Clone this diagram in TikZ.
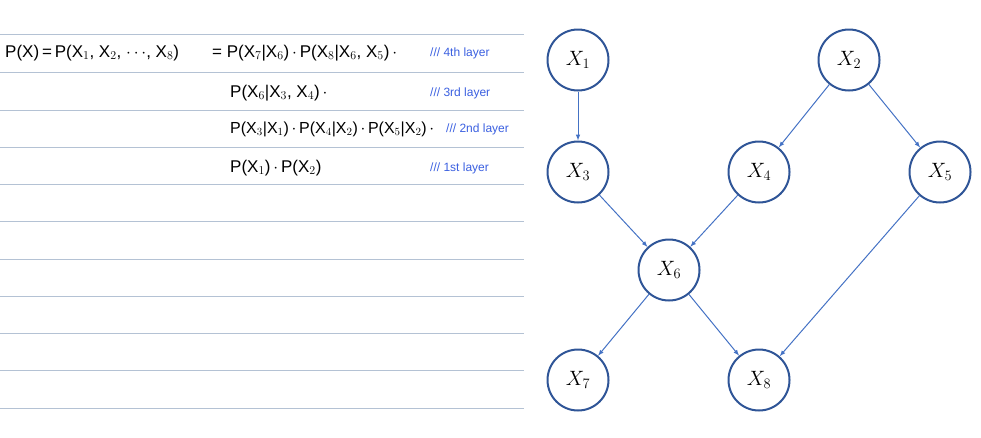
\documentclass[tikz,border=0pt]{standalone}
\usepackage{fontspec}
\setsansfont{Liberation Sans}
\begin{document}
\begin{tikzpicture}[x=1pt,y=-1pt,
  rv/.style={circle,draw=nodeblue,line width=2pt,minimum size=61pt,inner sep=0pt,font=\fontsize{21}{21}\selectfont},
  edge/.style={draw=edgeblue,line width=1pt,-latex},
  ruled/.style={draw=lineblue,line width=0.9pt},
  eq/.style={anchor=west,font=\sffamily\fontsize{17}{17}\selectfont,inner sep=0pt},
  lay/.style={anchor=west,font=\sffamily\fontsize{12}{12}\selectfont,text=labblue,inner sep=0pt}]
\definecolor{nodeblue}{HTML}{2F5597}
\definecolor{edgeblue}{HTML}{4472C4}
\definecolor{lineblue}{HTML}{B4C2D4}
\definecolor{labblue}{HTML}{3A5FE0}
\newcommand{\dt}{\,$\cdot$\,}
\useasboundingbox (0,0) rectangle (981,437);
\foreach \y in {34,72,110,147,184,221,259,296,333,370,408}
  \draw[ruled] (0,\y) -- (524,\y);
\node[eq] (e1) at (5,53) {P(X)\,=\,P(X$_1$, X$_2$, $\cdots$, X$_8$)};
\node[eq] (e2) at (212,53) {= P(X$_7$|X$_6$)\dt P(X$_8$|X$_6$, X$_5$)\dt};
\node[eq] (e3) at (230,93) {P(X$_6$|X$_3$, X$_4$)\dt};
\node[eq,font=\sffamily\fontsize{16}{16}\selectfont] (e4) at (230,129) {P(X$_3$|X$_1$)\dt P(X$_4$|X$_2$)\dt P(X$_5$|X$_2$)\dt};
\node[eq] (e5) at (230,168) {P(X$_1$)\dt P(X$_2$)};
\node[lay] (l1) at (430,53) {/// 4th layer};
\node[lay] (l2) at (430,93) {/// 3rd layer};
\node[lay] (l3) at (446,129) {/// 2nd layer};
\node[lay] (l4) at (430,168) {/// 1st layer};
\node[rv] (x1) at (578,60) {$X_1$};
\node[rv] (x2) at (849,60) {$X_2$};
\node[rv] (x3) at (578,172) {$X_3$};
\node[rv] (x4) at (759,172) {$X_4$};
\node[rv] (x5) at (940,172) {$X_5$};
\node[rv] (x6) at (669,270) {$X_6$};
\node[rv] (x7) at (578,380) {$X_7$};
\node[rv] (x8) at (759,380) {$X_8$};
\draw[edge] (x1) -- (x3);
\draw[edge] (x2) -- (x4);
\draw[edge] (x2) -- (x5);
\draw[edge] (x3) -- (x6);
\draw[edge] (x4) -- (x6);
\draw[edge] (x6) -- (x7);
\draw[edge] (x6) -- (x8);
\draw[edge] (x5) -- (x8);
\end{tikzpicture}
\end{document}
